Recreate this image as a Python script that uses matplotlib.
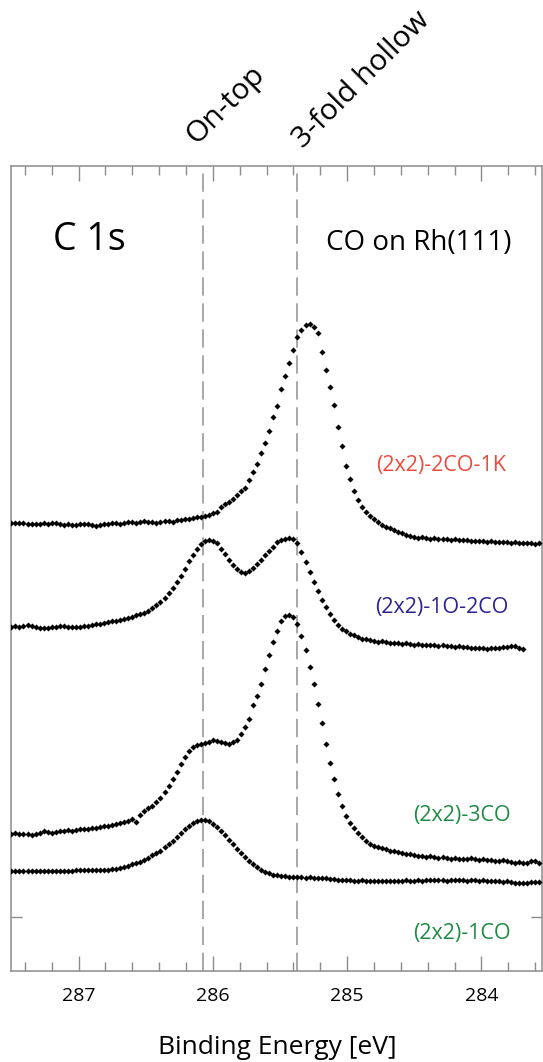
import numpy as np
import matplotlib
matplotlib.use("Agg")
import matplotlib.pyplot as plt

plt.rcParams['font.family'] = ['Open Sans', 'DejaVu Sans']

# ---- data -------------------------------------------------------------
energy_start = 287.50   # eV, first data point
energy_step = 0.03      # eV between points

series_labels = ["(2x2)-2CO-1K", "(2x2)-1O-2CO", "(2x2)-3CO", "(2x2)-1CO"]
series_colors = ["#ef4b3c", "#2b2390", "#1f8a45", "#1f8a45"]

co2_k1 = [447, 447, 447.5, 447, 446, 446, 446, 446.5, 447, 446,
          447.5, 447, 446, 445, 446, 445.5, 445, 446, 446.5, 446,
          445, 444.5, 445.5, 446, 446.5, 447.5, 447, 446, 447, 448.5,
          448, 447, 448, 449, 448.5, 448, 447.5, 448.5, 449.5, 449,
          448.5, 450, 450.5, 451, 451.5, 452, 453, 453.5, 454, 455.5,
          457, 458.5, 463, 466.5, 468, 471.5, 475, 479, 482.5, 490,
          498, 506.5, 517.5, 527, 539, 553, 564.5, 581, 594.5, 607.5,
          620.5, 633.5, 640.5, 645.5, 646, 643.5, 637, 618, 600, 583.5,
          565.5, 543, 524, 504, 491.5, 479, 470.5, 463.5, 458, 454.5,
          451.5, 448.5, 445.5, 443.5, 442, 440, 438.5, 437, 435.5, 434,
          433, 432.5, 433, 432, 431.5, 432, 431, 431.5, 431, 430.5,
          431, 430, 430.5, 430, 429.5, 429, 429.5, 429, 428.5, 429,
          428.5, 428, 428.5, 428, 427.5, 428, 427.5, 427, 427.5, 427,
          426.5, 427]

o1_co2 = [343.5, 344, 343.5, 344.5, 345, 344.5, 343.5, 342.5, 342, 342.5,
          343, 343.5, 344, 344.5, 343.5, 343, 343.5, 343.5, 344, 344.5,
          345.5, 346, 346.5, 347, 348, 349, 349.5, 350, 351, 352.5,
          353.5, 355, 356, 357.5, 359.5, 362, 365, 368.5, 372.5, 377,
          382, 388, 394.5, 401.5, 409, 415.5, 421, 426, 429, 430.5,
          429.5, 427, 421.5, 416, 410, 405, 401, 398.5, 397.5, 399.5,
          402, 406.5, 410.5, 415, 419.5, 423.5, 428, 430, 431.5, 432.5,
          431, 427, 418.5, 408, 398, 388, 379, 370.5, 363, 356.5,
          350.5, 345.5, 341, 339, 336.5, 335, 333, 331.5, 331.5, 330.5,
          329, 328.5, 329, 328, 327.5, 327, 327, 326.5, 327, 326,
          325.5, 326, 325.5, 325, 325.5, 325, 324.5, 325, 324.5, 324,
          323.5, 324, 323.5, 323, 322.5, 322, 322.5, 322, 321.5, 322,
          322.5, 322, 323, 323.5, 324, 324, 322.5, 321]

co3 = [136.5, 137, 136.5, 136, 136.5, 135.5, 136, 137.5, 139, 138.5,
       137.5, 138, 139, 139.5, 140, 139.5, 140.5, 141, 141, 141.5,
       142, 142.5, 143.5, 144, 144.5, 145.5, 146, 147, 148.5, 149.5,
       151.5, 148.5, 155, 159.5, 162.5, 164.5, 168, 172.5, 178, 184.5,
       191.5, 198.5, 206, 213.5, 219.5, 223.5, 225, 226, 227.5, 228.5,
       230, 229.5, 228, 227, 226.5, 228, 230.5, 236, 243, 251.5,
       265.5, 274.5, 286.5, 301.5, 315.5, 328, 339.5, 349.5, 354.5, 355.5,
       353.5, 346, 334, 320.5, 303, 286, 266.5, 247, 226.5, 207,
       191, 176, 164.5, 154.5, 147.5, 142, 137, 133, 129, 126,
       124, 123, 122, 121, 119.5, 119, 118, 117.5, 116.5, 116,
       115.5, 114.5, 114, 113.5, 114, 113, 112.5, 113, 112.5, 111.5,
       112, 111.5, 111, 111.5, 112, 111, 110.5, 111, 110, 110.5,
       109.5, 109, 110, 109, 108, 107.5, 108, 107, 107.5, 109,
       109.5, 107.5]

co1 = [99.5, 99.5, 99.5, 99.5, 99.5, 99.5, 99.5, 99, 99, 99.5,
       99.5, 99, 99, 99.5, 99.5, 99.5, 100, 100, 100, 100,
       100.5, 100.5, 100.5, 100.5, 100.5, 101, 101, 102, 103, 104.5,
       106, 107.5, 108.5, 110.5, 112.5, 115, 117.5, 119.5, 123, 126,
       129.5, 133.5, 137.5, 141, 144.5, 147.5, 149.5, 150.5, 150.5, 149,
       146.5, 143, 139, 135, 130.5, 126, 121.5, 117.5, 113.5, 109.5,
       106, 103, 100.5, 98.5, 97, 95.5, 95, 94.5, 94, 93.5,
       93.5, 93, 93, 92.5, 93, 92.5, 92.5, 92, 92, 91.5,
       91, 90.5, 90.5, 90, 90, 89.5, 89.5, 90, 89.5, 89,
       89.5, 89.5, 89, 89.5, 89.5, 89, 89.5, 89.5, 90, 89.5,
       89.5, 90, 89.5, 90, 90, 90.5, 90, 90, 89.5, 90,
       90.5, 90, 90, 89.5, 90, 90, 89.5, 90, 89.5, 89,
       89.5, 89, 88.5, 89, 88, 87.5, 87, 87, 87.5, 88,
       88.5, 88]

site_energies = [286.07, 285.37]
site_labels = ["On-top", "3-fold hollow"]
x_major_ticks = [287, 286, 285, 284]

# ---- figure -------------------------------------------------------------
W, H = 543, 1062
fig = plt.figure(figsize=(W / 100, H / 100), dpi=100)

def fx(px):
    return px / W

def fy(py):
    return 1 - py / H

ax_l, ax_r, ax_t, ax_b = 11.4, 542.0, 166.0, 970.5
ax = fig.add_axes([fx(ax_l), fy(ax_b), (ax_r - ax_l) / W, (ax_b - ax_t) / H])

for data in [co2_k1, o1_co2, co3, co1]:
    e = energy_start - energy_step * np.arange(len(data))
    ax.plot(e, data, linestyle='none', marker='D', ms=3.1, mew=0,
            color='black', zorder=3)

for se in site_energies:
    ax.axvline(se, color='#8f8f8f', lw=1.1, dashes=(12, 5), zorder=2)

ax.set_xlim(287.50, 287.50 - (ax_r - ax_l) / 134.3)
ax.set_ylim(-0.5, 804)

spine_col = '#8c8c8c'
for s in ax.spines.values():
    s.set_color(spine_col)
    s.set_linewidth(1.1)

ax.set_xticks(x_major_ticks)
ax.set_xticks(np.arange(283.6, 287.6, 0.2), minor=True)
ax.tick_params(axis='x', which='major', direction='in', length=10.5, width=1.0,
               color=spine_col, top=True, bottom=True, labelsize=14, pad=12,
               labelcolor='black')
ax.tick_params(axis='x', which='minor', direction='in', length=6.5, width=1.0,
               color=spine_col, top=True, bottom=True)
ax.set_yticks([53])
ax.set_yticklabels([])
ax.tick_params(axis='y', which='major', direction='in', length=8, width=1.0,
               color=spine_col, left=True, right=True)
ax.tick_params(axis='y', which='minor', left=False, right=False)

# texts
fig.text(fx(53), fy(250), "C 1s", fontsize=27, ha='left', va='baseline')
fig.text(fx(512), fy(250), "CO on Rh(111)", fontsize=20, ha='right', va='baseline')

label_pos = [(506, 465), (509, 608), (511, 816), (511, 933)]
for lab, col, (px, py) in zip(series_labels, series_colors, label_pos):
    fig.text(fx(px), fy(py), lab, color=col, fontsize=15.5, ha='right', va='center')

for lab, (px, py) in zip(site_labels, [(226, 105), (362, 80)]):
    fig.text(fx(px), fy(py), lab, fontsize=21.5, rotation=45, ha='center', va='center')

fig.text(fx(277), fy(1047), "Binding Energy [eV]", fontsize=19, ha='center', va='center')

fig.savefig("out.png", dpi=100)
